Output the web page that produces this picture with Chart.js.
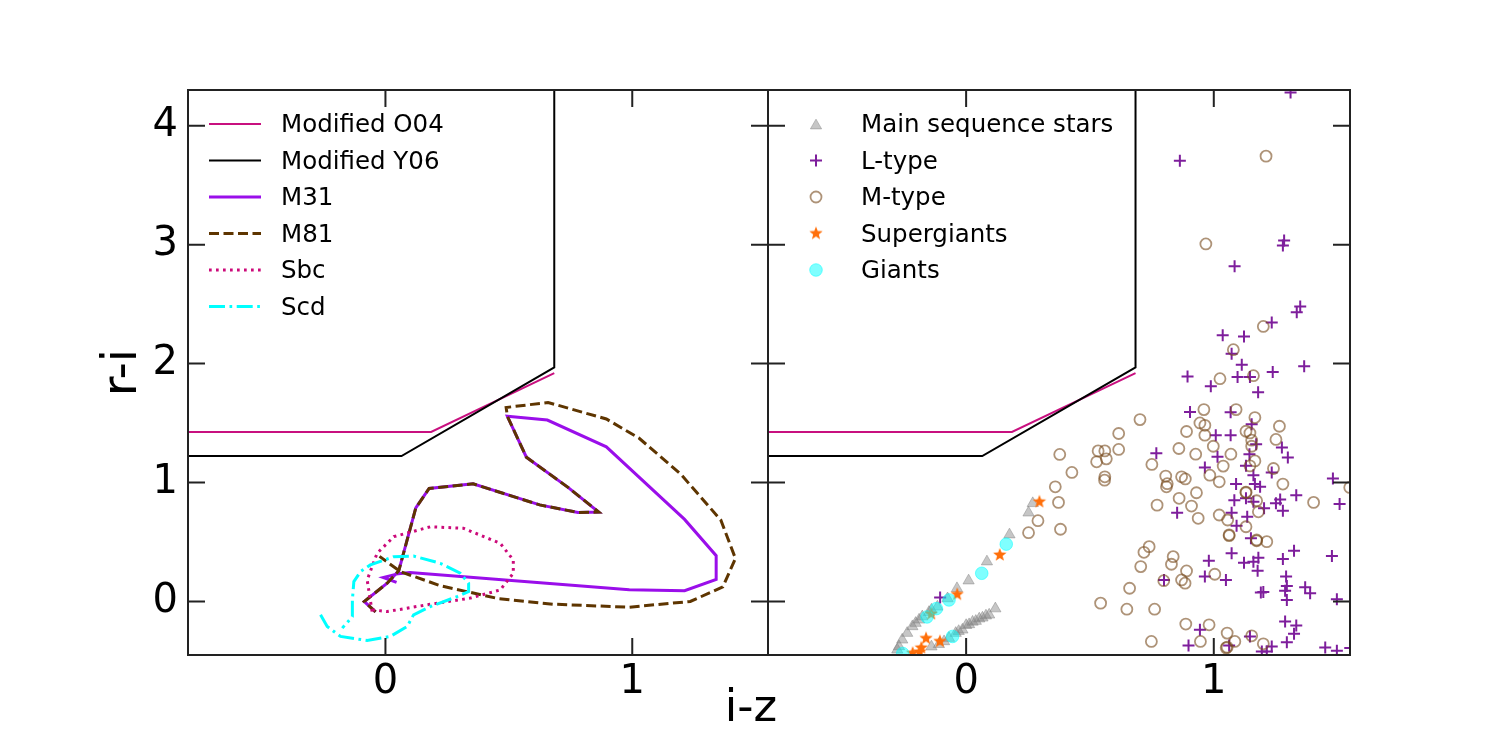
<!DOCTYPE html>
<html>
<head>
<meta charset="utf-8">
<title>r-i vs i-z</title>
<script src="https://cdn.jsdelivr.net/npm/chart.js@4.4.1/dist/chart.umd.min.js"></script>
<style>
  body { margin: 0; background: #fff; }
  #wrap { position: relative; width: 1500px; height: 750px; }
  #wrap canvas { position: absolute; left: 0; top: 0; }
</style>
</head>
<body>
<div id="wrap">
  <canvas id="leftPanel" width="1500" height="750"></canvas>
  <canvas id="rightPanel" width="1500" height="750"></canvas>
</div>
<script>
// --- axes ---
const xMin = -0.8, xMax = 1.55;
const yMin = -0.45, yMax = 4.3;
const xTicks = [0, 1];
const yTicks = [0, 1, 2, 3, 4];

// --- selection boundaries [i-z, r-i] ---
const o04Line = [[-1, 1.425], [0.185, 1.425], [0.684, 1.92]];
const y06Line = [[-1, 1.223], [0.065, 1.223], [0.684, 1.968], [0.684, 4.5]];

// --- galaxy redshift tracks ---
const m31Track = [[-0.04, -0.087], [-0.086, 0.0], [0.007, 0.154], [0.054, 0.258], [0.123, 0.786], [0.177, 0.95],
  [0.355, 0.989], [0.625, 0.812], [0.78, 0.748], [0.864, 0.752], [0.741, 0.957], [0.571, 1.213], [0.494, 1.557],
  [0.656, 1.525], [0.895, 1.30], [1.212, 0.69], [1.34, 0.385], [1.34, 0.186], [1.212, 0.09], [0.988, 0.099],
  [0.099, 0.244], [0.053, 0.234], [-0.009, 0.202], [0.045, 0.16]];
const m81Track = [[-0.04, -0.087], [-0.086, 0.0], [0.007, 0.154], [0.054, 0.258], [0.123, 0.786], [0.177, 0.95],
  [0.355, 0.989], [0.625, 0.812], [0.78, 0.748], [0.864, 0.752], [0.741, 0.957], [0.571, 1.213], [0.494, 1.557],
  [0.489, 1.631], [0.659, 1.673], [0.895, 1.534], [1.027, 1.374], [1.197, 1.069], [1.359, 0.684], [1.418, 0.362],
  [1.367, 0.122], [1.235, 0.0], [0.988, -0.048], [0.679, -0.023], [0.455, 0.025], [0.223, 0.132], [0.061, 0.25],
  [-0.024, 0.379]];
const sbcTrack = [[-0.054, -0.085], [-0.074, 0.181], [-0.034, 0.405], [0.034, 0.545], [0.182, 0.628], [0.316, 0.615],
  [0.465, 0.489], [0.518, 0.349], [0.518, 0.237], [0.465, 0.097], [0.343, 0.028], [0.168, -0.028], [0.007, -0.085],
  [-0.054, -0.07]];
const scdTrack = [[-0.263, -0.112], [-0.236, -0.21], [-0.182, -0.294], [-0.074, -0.328], [0.02, -0.294], [0.088, -0.21],
  [0.114, -0.112], [0.182, -0.043], [0.29, 0.041], [0.337, 0.083], [0.337, 0.153], [0.303, 0.237], [0.222, 0.321],
  [0.114, 0.382], [0.034, 0.377], [-0.061, 0.307], [-0.101, 0.251], [-0.128, 0.167], [-0.134, 0.013],
  [-0.134, -0.127], [-0.175, -0.224]];

// --- stars ---
const mainSeq = [[0.269, 0.825], [0.252, 0.746], [0.175, 0.562], [0.084, 0.335], [0.01, 0.175], [-0.037, 0.11],
  [-0.075, 0.025], [-0.116, -0.045], [-0.14, -0.07], [-0.15, -0.09], [-0.177, -0.127], [-0.19, -0.154],
  [-0.204, -0.182], [-0.217, -0.21], [-0.238, -0.266], [-0.258, -0.322], [-0.271, -0.378], [-0.278, -0.406],
  [0.118, -0.06], [0.093, -0.112], [0.08, -0.12], [0.066, -0.137], [0.053, -0.145], [0.039, -0.165], [0.026, -0.172],
  [0.012, -0.193], [0.0, -0.2], [-0.015, -0.238], [-0.03, -0.25], [-0.042, -0.266], [-0.069, -0.308],
  [-0.089, -0.336], [-0.11, -0.36], [-0.14, -0.38]];
const lType = [[0.863, 3.705], [1.284, 3.034], [1.279, 2.992], [1.084, 2.818], [1.349, 2.48], [1.335, 2.432],
  [1.234, 2.346], [1.036, 2.239], [1.122, 2.228], [1.072, 2.083], [1.113, 1.991], [1.238, 1.929], [1.365, 1.977],
  [0.894, 1.892], [1.096, 1.887], [1.146, 1.887], [0.988, 1.809], [1.179, 1.758], [0.904, 1.592], [1.068, 1.591],
  [1.153, 1.49], [1.008, 1.398], [1.068, 1.398], [1.171, 1.322], [1.275, 1.294], [1.015, 1.216], [1.144, 1.238],
  [1.299, 1.21], [0.768, 1.247], [0.964, 1.127], [1.13, 1.14], [1.16, 1.062], [1.234, 1.085], [1.481, 1.034],
  [1.09, 0.987], [1.166, 0.987], [1.187, 0.964], [1.083, 0.852], [1.13, 0.867], [1.16, 0.838], [1.203, 0.783],
  [1.251, 0.825], [1.268, 0.858], [1.279, 0.763], [1.333, 0.894], [1.508, 0.819], [1.072, 0.746], [1.135, 0.712],
  [1.092, 0.637], [1.15, 0.531], [1.072, 0.405], [0.98, 0.343], [1.122, 0.326], [1.18, 0.368], [1.16, 0.335],
  [1.324, 0.427], [1.279, 0.357], [1.477, 0.383], [1.177, 0.259], [0.964, 0.209], [1.049, 0.181], [1.292, 0.209],
  [1.295, 0.131], [1.288, 0.091], [1.19, 0.075], [1.2, 0.08], [1.369, 0.12], [1.389, 0.07], [1.295, 0.013],
  [1.497, 0.019], [1.288, -0.169], [1.333, -0.202], [1.324, -0.272], [1.295, -0.342], [0.944, -0.238],
  [1.146, -0.294], [1.062, -0.37], [1.234, -0.378], [1.194, -0.42], [1.214, -0.42], [1.45, -0.387],
  [1.497, -0.414], [1.551, -0.392], [0.852, 0.746], [0.799, 0.181], [0.898, -0.37], [-0.105, 0.033], [1.31, 4.28]];
const mType = [[1.211, 3.744], [0.968, 3.006], [1.2, 2.312], [1.079, 2.117], [1.025, 1.873], [1.16, 1.898],
  [0.96, 1.613], [1.09, 1.613], [1.166, 1.546], [0.944, 1.501], [0.964, 1.481], [1.265, 1.473], [1.13, 1.431],
  [1.146, 1.417], [0.964, 1.398], [1.251, 1.362], [1.153, 1.356], [0.998, 1.305], [1.153, 1.305], [0.927, 1.238],
  [1.069, 1.238], [1.166, 1.182], [1.038, 1.138], [1.146, 1.14], [1.241, 1.118], [0.984, 1.062],
  [0.702, 1.529], [0.616, 1.412], [0.616, 1.278], [0.533, 1.266], [0.56, 1.266], [0.566, 1.199], [0.527, 1.174],
  [0.378, 1.236], [0.427, 1.085], [0.56, 1.048], [0.75, 1.152], [0.859, 1.286], [0.89, 1.429], [0.806, 1.054],
  [0.87, 1.048], [0.885, 1.03], [0.812, 0.99], [0.36, 0.964], [0.373, 0.833], [0.29, 0.679], [0.252, 0.578],
  [0.381, 0.607], [0.559, 1.02], [0.771, 0.81], [0.809, 0.964], [0.86, 0.867], [0.91, 0.802], [0.93, 0.914],
  [0.937, 0.699], [0.739, 0.461], [0.718, 0.413], [0.705, 0.293], [0.836, 0.377], [0.829, 0.313], [0.89, 0.257],
  [0.87, 0.181], [0.884, 0.154], [0.798, 0.175], [0.66, 0.111], [0.543, -0.014], [0.649, -0.065], [0.761, -0.065],
  [0.887, -0.19], [0.748, -0.336], [1.022, 1.006], [1.13, 0.914], [1.13, 0.92], [1.173, 0.847], [1.18, 0.754],
  [1.279, 0.987], [1.403, 0.833], [1.022, 0.727], [1.056, 0.685], [1.13, 0.628], [1.062, 0.553], [1.062, 0.56],
  [1.173, 0.517], [1.173, 0.51], [1.214, 0.503], [1.004, 0.229], [0.981, -0.196], [1.054, -0.266], [1.085, -0.336],
  [0.946, -0.336], [1.054, -0.384], [1.05, -0.39], [1.153, -0.289], [1.2, -0.356], [1.549, 0.959]];
const superGiants = [[0.296, 0.838], [0.136, 0.391], [-0.036, 0.06], [-0.141, -0.104], [-0.162, -0.31],
  [-0.106, -0.335], [-0.181, -0.39], [-0.188, -0.424], [-0.216, -0.434]];
const giants = [[0.162, 0.482], [0.063, 0.237], [-0.069, 0.013], [-0.12, -0.06], [-0.158, -0.13],
  [-0.055, -0.294], [-0.256, -0.437]];

const FONT = 'DejaVu Sans';
Chart.defaults.font.family = FONT;
Chart.defaults.color = '#000';

const pts = arr => arr.map(([x, y]) => ({ x, y }));

function makeStar(r, color) {
  const c = document.createElement('canvas');
  const s = Math.ceil(r * 2 + 2);
  c.width = s; c.height = s;
  const g = c.getContext('2d');
  g.fillStyle = color;
  g.beginPath();
  for (let i = 0; i < 10; i++) {
    const rr = i % 2 ? r * 0.42 : r;
    const a = -Math.PI / 2 + i * Math.PI / 5;
    g.lineTo(s / 2 + rr * Math.cos(a), s / 2 + rr * Math.sin(a));
  }
  g.closePath();
  g.fill();
  return c;
}
const starImg = makeStar(7, '#ff6f0a');

function lineSet(label, data, color, width, dash, inLegend) {
  return {
    label, data: pts(data), showLine: true, borderColor: color, borderWidth: width,
    borderDash: dash, pointRadius: 0, pointHoverRadius: 0, tension: 0, fill: false,
    inLegend, clip: 0
  };
}

// inward ticks on all four sides + full frame
const TICK = 17;
const framePlugin = {
  id: 'frame',
  afterDraw(chart) {
    const { ctx, chartArea: a, scales } = chart;
    ctx.save();
    ctx.strokeStyle = '#222';
    ctx.lineWidth = 2;
    ctx.beginPath();
    xTicks.forEach(v => {
      const px = scales.x.getPixelForValue(v);
      ctx.moveTo(px, a.bottom); ctx.lineTo(px, a.bottom - TICK);
      ctx.moveTo(px, a.top); ctx.lineTo(px, a.top + TICK);
    });
    yTicks.forEach(v => {
      const py = scales.y.getPixelForValue(v);
      ctx.moveTo(a.left, py); ctx.lineTo(a.left + TICK, py);
      ctx.moveTo(a.right, py); ctx.lineTo(a.right - TICK, py);
    });
    ctx.stroke();
    ctx.strokeRect(a.left, a.top, a.right - a.left, a.bottom - a.top);
    ctx.restore();
  }
};

// legend drawn inside the axes, matplotlib style
const legendPlugin = {
  id: 'boxLegend',
  afterDraw(chart, args, opts) {
    const { ctx } = chart;
    const items = chart.data.datasets.filter(d => d.inLegend);
    ctx.save();
    ctx.font = '24.5px "' + FONT + '"';
    ctx.textBaseline = 'middle';
    ctx.textAlign = 'left';
    items.forEach((d, i) => {
      const y = opts.top + i * opts.step;
      if (d.showLine) {
        ctx.strokeStyle = d.borderColor;
        ctx.lineWidth = d.borderWidth;
        ctx.setLineDash(d.borderDash || []);
        ctx.beginPath();
        ctx.moveTo(opts.x0, y); ctx.lineTo(opts.x1, y);
        ctx.stroke();
        ctx.setLineDash([]);
      } else {
        drawMarker(ctx, d, opts.mx, y);
      }
      ctx.fillStyle = '#000';
      ctx.fillText(d.label, opts.tx, y + 2);
    });
    ctx.restore();
  }
};

function drawMarker(ctx, d, x, y) {
  const r = d.pointRadius;
  ctx.save();
  ctx.fillStyle = d.pointBackgroundColor;
  ctx.strokeStyle = d.pointBorderColor;
  ctx.lineWidth = d.pointBorderWidth;
  if (d.pointStyle instanceof HTMLCanvasElement) {
    ctx.drawImage(d.pointStyle, x - d.pointStyle.width / 2, y - d.pointStyle.height / 2);
  } else if (d.pointStyle === 'cross') {
    ctx.beginPath();
    ctx.moveTo(x - r, y); ctx.lineTo(x + r, y);
    ctx.moveTo(x, y - r); ctx.lineTo(x, y + r);
    ctx.stroke();
  } else if (d.pointStyle === 'triangle') {
    ctx.beginPath();
    for (let k = 0; k < 3; k++) {
      const a = -Math.PI / 2 + k * 2 * Math.PI / 3;
      ctx.lineTo(x + r * Math.cos(a), y + r * Math.sin(a) + r * 0.25);
    }
    ctx.closePath(); ctx.fill(); ctx.stroke();
  } else {
    ctx.beginPath();
    ctx.arc(x, y, r, 0, Math.PI * 2);
    ctx.fill(); ctx.stroke();
  }
  ctx.restore();
}

const xLabelPlugin = {
  id: 'figXLabel',
  afterDraw(chart) {
    const { ctx } = chart;
    ctx.save();
    ctx.font = '45px "' + FONT + '"';
    ctx.fillStyle = '#000';
    ctx.textAlign = 'center';
    ctx.textBaseline = 'alphabetic';
    ctx.fillText('i-z', 751, 721);
    ctx.restore();
  }
};

function scalesFor(isLeft) {
  return {
    x: {
      type: 'linear', min: xMin, max: xMax,
      afterBuildTicks: s => { s.ticks = xTicks.map(v => ({ value: v })); },
      afterFit: s => { s.height = 95; },
      grid: { display: false, drawTicks: false },
      border: { display: false },
      ticks: { font: { size: 40 }, padding: 4, color: '#000', maxRotation: 0 }
    },
    y: {
      type: 'linear', min: yMin, max: yMax,
      afterBuildTicks: s => { s.ticks = yTicks.map(v => ({ value: v })); },
      afterFit: s => { s.width = isLeft ? 188 : 768; },
      grid: { display: false, drawTicks: false },
      border: { display: false },
      ticks: { display: isLeft, font: { size: 40 }, padding: 10, color: '#000' },
      title: {
        display: isLeft, text: 'r-i', color: '#000',
        font: { size: 48 }, padding: { top: 95, bottom: 0 }
      }
    }
  };
}

function baseOptions(isLeft, legendOpts) {
  return {
    responsive: false,
    animation: false,
    devicePixelRatio: 1,
    layout: { padding: { left: 0, top: 90, bottom: 0, right: isLeft ? 732 : 150 } },
    scales: scalesFor(isLeft),
    plugins: { legend: { display: false }, tooltip: { enabled: false }, boxLegend: legendOpts },
    events: []
  };
}

function withOrder(sets) {
  sets.forEach((d, i) => { d.order = -i; });
  return sets;
}

// left panel: boundaries and galaxy tracks
new Chart(document.getElementById('leftPanel'), {
  type: 'scatter',
  data: {
    datasets: withOrder([
      lineSet('Modified O04', o04Line, '#c8107f', 2, [], true),
      lineSet('Modified Y06', y06Line, '#000000', 2, [], true),
      lineSet('M31', m31Track, '#9a0eea', 3, [], true),
      lineSet('M81', m81Track, '#5e3500', 3, [10, 4.5], true),
      lineSet('Sbc', sbcTrack, '#cc0a7a', 3, [2.7, 4.3], true),
      lineSet('Scd', scdTrack, '#00ffff', 3, [16, 4.5, 2.7, 4.5], true)
    ])
  },
  options: baseOptions(true, { top: 124, step: 36.5, x0: 209, x1: 261, tx: 281 }),
  plugins: [framePlugin, legendPlugin, xLabelPlugin]
});

// right panel: boundaries and stellar populations
const pointSet = (label, data, style, radius, fill, stroke, width) => ({
  label, data: pts(data), showLine: false, pointStyle: style, pointRadius: radius,
  pointHoverRadius: radius, pointBackgroundColor: fill, pointBorderColor: stroke,
  pointBorderWidth: width, inLegend: true, clip: 0
});

new Chart(document.getElementById('rightPanel'), {
  type: 'scatter',
  data: {
    datasets: withOrder([
      lineSet('Modified O04', o04Line, '#c8107f', 2, [], false),
      lineSet('Modified Y06', y06Line, '#000000', 2, [], false),
      pointSet('Main sequence stars', mainSeq, 'triangle', 6.5, 'rgba(128,128,128,0.45)', 'rgba(128,128,128,0.45)', 1),
      pointSet('L-type', lType, 'cross', 6, '#7e1e9c', '#7e1e9c', 2),
      pointSet('M-type', mType, 'circle', 5.5, 'rgba(0,0,0,0)', 'rgba(120,75,30,0.6)', 1.8),
      pointSet('Supergiants', superGiants, starImg, 7, '#ff6f0a', '#ff6f0a', 0),
      pointSet('Giants', giants, 'circle', 6.3, 'rgba(0,255,255,0.5)', 'rgba(0,255,255,0.5)', 1)
    ])
  },
  options: baseOptions(false, { top: 124, step: 36.5, mx: 816, tx: 861 }),
  plugins: [framePlugin, legendPlugin]
});
</script>
</body>
</html>
